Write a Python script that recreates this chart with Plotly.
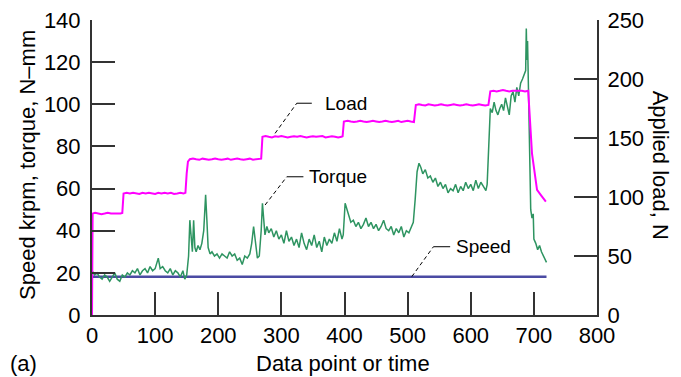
import plotly.graph_objects as go

# ---------------- data ----------------
torque_x = [0, 4, 8, 12, 16, 20, 24, 28, 32, 36, 40, 44, 48,
            52, 56, 60, 64, 68, 72, 76, 80, 84, 88, 92, 96, 100, 105, 108, 112, 116, 120, 124, 128, 132, 136, 140, 144, 147,
            150, 153, 155, 157, 159, 161, 163, 165, 168, 171, 174, 177, 180, 182, 184, 187, 190, 194, 198,
            202, 206, 210, 214, 218, 222, 226, 230, 234, 238, 242, 246, 250, 253, 256, 259, 262, 265, 268, 270, 272, 274, 277, 280,
            284, 288, 292, 296, 300, 304, 308, 312, 316, 320, 324, 328, 332, 336, 340, 344, 348, 352, 356, 360, 364, 368, 372, 376, 380, 384, 388, 392, 396, 398,
            401, 404, 407, 410, 414, 418, 422, 426, 430, 434, 438, 442, 446, 450, 454, 458, 462, 466, 470, 474, 478, 482, 486, 490, 494, 498, 502, 506, 509,
            512, 515, 518, 521, 524, 528, 532, 536, 540, 544, 548, 552, 556, 560, 564, 568, 572, 576, 580, 584, 588, 592, 596, 600, 604, 608, 612, 616, 620, 624, 626,
            629, 631, 634, 637, 640, 643, 646, 649, 652, 655, 658, 661, 664, 667, 670, 673, 676, 679, 682, 685, 687, 688, 689, 690, 691, 693, 695, 697, 699, 700, 703, 706, 709, 712, 715, 718, 720]
torque_y = [21, 19, 20, 18, 17, 19, 18, 16, 18, 20, 17, 16, 19,
            18, 20, 19, 21, 20, 22, 19, 21, 22, 20, 23, 21, 22, 27, 22, 23, 21, 20, 22, 19, 21, 20, 18, 21, 17,
            19, 28, 45, 35, 30, 45, 32, 30, 33, 31, 34, 40, 57, 45, 32, 29, 30, 28, 29,
            27, 29, 28, 27, 30, 28, 29, 26, 27, 24, 28, 27, 29, 34, 42, 35, 27, 28, 40, 53, 44, 38, 42, 39,
            41, 37, 40, 36, 38, 34, 40, 35, 37, 33, 36, 32, 39, 34, 31, 36, 33, 38, 32, 35, 30, 37, 33, 36, 34, 39, 35, 41, 36, 38,
            53, 50, 46, 44, 45, 42, 44, 41, 43, 46, 42, 44, 41, 43, 40, 42, 45, 41, 40, 42, 38, 41, 39, 42, 37, 40, 39, 42, 44,
            55, 68, 72, 70, 67, 69, 65, 66, 63, 65, 61, 63, 60, 62, 58, 60, 59, 62, 58, 61, 59, 63, 60, 62, 59, 64, 60, 63, 61, 59, 62,
            80, 98, 96, 101, 97, 95, 98, 100, 97, 103, 99, 95, 104, 106, 101, 108, 104, 110, 112, 114, 116, 136, 121, 130, 113, 80, 50, 46, 48, 36, 34, 31, 33, 30, 28, 26, 25]

load_x = [0, 1, 5, 10, 15, 20, 25, 30, 35, 40, 45, 48,
          50, 55, 60, 65, 70, 75, 80, 85, 90, 95, 100, 105, 110, 115, 120, 125, 130, 135, 140, 145, 148,
          150, 152, 155, 160, 165, 170, 175, 180, 185, 190, 195, 200, 205, 210, 215, 220, 225, 230, 235, 240, 245, 250, 255, 260, 265, 268,
          270, 275, 280, 285, 290, 295, 300, 305, 310, 315, 320, 325, 330, 335, 340, 345, 350, 355, 360, 365, 370, 375, 380, 385, 390, 395, 397,
          399, 405, 410, 415, 420, 425, 430, 435, 440, 445, 450, 455, 460, 465, 470, 475, 480, 485, 490, 495, 500, 505, 510,
          513, 518, 523, 528, 533, 538, 543, 548, 553, 558, 563, 568, 573, 578, 583, 588, 593, 598, 603, 608, 613, 618, 623, 628,
          631, 636, 641, 646, 651, 656, 661, 666, 671, 676, 681, 686, 691, 697, 705, 712, 719]
load_y = [0, 86, 86.6, 86, 85.5, 86, 86.6, 86, 86, 85.5, 86, 86.5,
          103, 103.6, 103, 103.5, 103, 102.5, 103.5, 103, 103.6, 103, 102.5, 103.5, 103, 103.6, 103, 103.5, 102.6, 103, 103.5, 103, 103.5,
          120, 130, 132, 132.6, 132, 131.5, 132.5, 132, 131.5, 132, 132.6, 132, 131.5, 132, 132.5, 131.5, 132, 132.6, 132, 131.5, 132, 132.5, 131.6, 132, 132, 132.5,
          151, 151.6, 151, 150.5, 151.5, 151, 151.6, 151, 150.5, 151, 151.5, 151, 151.6, 151, 150.5, 151, 151.5, 151, 151, 151.6, 150.5, 151, 151.5, 151, 150.5, 151, 151.5,
          164, 164.6, 164, 163.5, 164, 164.6, 164, 163.5, 164, 164.5, 164, 163.5, 164, 164.6, 164, 163.5, 164, 164.5, 163.5, 164, 164.6, 164, 163.5,
          178, 178.6, 178, 177.5, 178.5, 178, 177.5, 178, 178.6, 178, 177.5, 178, 178.5, 178, 177.5, 178, 178.6, 178, 177.5, 178, 178.5, 178, 177.5, 178,
          189.5, 190, 189.5, 190, 190.6, 190, 189.5, 190, 190, 190.6, 190, 189.5, 190, 137, 106, 101, 96]

speed_x = [0, 720]
speed_y = [18.2, 18.2]

x_ticks = [0, 100, 200, 300, 400, 500, 600, 700, 800]
left_ticks = [0, 20, 40, 60, 80, 100, 120, 140]
right_ticks = [0, 50, 100, 150, 200, 250]

FONT = "Liberation Sans, Arial, sans-serif"
AX = "#333333"
FS = 22

fig = go.Figure()
fig.add_trace(go.Scatter(x=speed_x, y=speed_y, mode="lines",
                         line=dict(color="#4b4ba3", width=2.5), name="Speed"))
fig.add_trace(go.Scatter(x=torque_x, y=torque_y, mode="lines",
                         line=dict(color="#2e9461", width=1.5), name="Torque"))
fig.add_trace(go.Scatter(x=load_x, y=load_y, mode="lines", yaxis="y2",
                         line=dict(color="#ff00ff", width=2), name="Load"))

axis_common = dict(showgrid=False, zeroline=False, showline=True, linecolor=AX, linewidth=2,
                   ticks="inside", ticklen=23, tickwidth=2, tickcolor=AX, automargin=False,
                   ticklabeloverflow="allow",
                   tickfont=dict(family=FONT, size=FS, color="black"))

# page body adds an 8px offset, so the figure is 8px smaller and margins shifted
fig.update_layout(
    width=673, height=369,
    margin=dict(l=84, r=84, t=12, b=62, autoexpand=False),
    paper_bgcolor="white", plot_bgcolor="white",
    showlegend=False,
    font=dict(family=FONT, size=FS, color="black"),
    xaxis=dict(range=[0, 800], tickvals=x_ticks, **axis_common),
    yaxis=dict(range=[0, 140], tickvals=left_ticks, ticklabelstandoff=5, **axis_common),
    yaxis2=dict(range=[0, 250], tickvals=right_ticks, overlaying="y", side="right",
                ticklabelstandoff=4, **axis_common),
)

# leader lines (data coordinates)
leaders = [
    ((290, 86.2), (324.4, 100.5), 348.2),
    ((274.2, 52.2), (308.6, 65.6), 334.9),
    ((506.6, 18.2), (540.9, 32.4), 567.4),
]
for (x0, y0), (x1, y1), x2 in leaders:
    fig.add_shape(type="line", x0=x0, y0=y0, x1=x1, y1=y1, xref="x", yref="y",
                  line=dict(color="black", width=1, dash="4px,3px"))
    fig.add_shape(type="line", x0=x1, y0=y1, x1=x2, y1=y1, xref="x", yref="y",
                  line=dict(color="black", width=1))

for txt, x, y in [("Load", 366, 100.5), ("Torque", 340, 65.6), ("Speed", 574, 32.4)]:
    fig.add_annotation(text=txt, x=x, y=y, xref="x", yref="y", showarrow=False,
                       xanchor="left", yanchor="middle", font=dict(family=FONT, size=19, color="black"))

# axis titles and panel label (paper coordinates relative to plot area)
titles = [
    ("Speed krpm, torque, N\u2013mm", -0.1268, 0.5085, -90, "center"),
    ("Applied load, N", 1.1254, 0.5085, 90, "center"),
    ("Data point or time", 0.4973, -0.166, 0, "center"),
    ("(a)", -0.1664, -0.166, 0, "left"),
]
for txt, x, y, ang, xa in titles:
    fig.add_annotation(text=txt, x=x, y=y, xref="paper", yref="paper", showarrow=False,
                       textangle=ang, xanchor=xa, yanchor="middle",
                       font=dict(family=FONT, size=FS, color="black"))

fig.write_html("out.html")
